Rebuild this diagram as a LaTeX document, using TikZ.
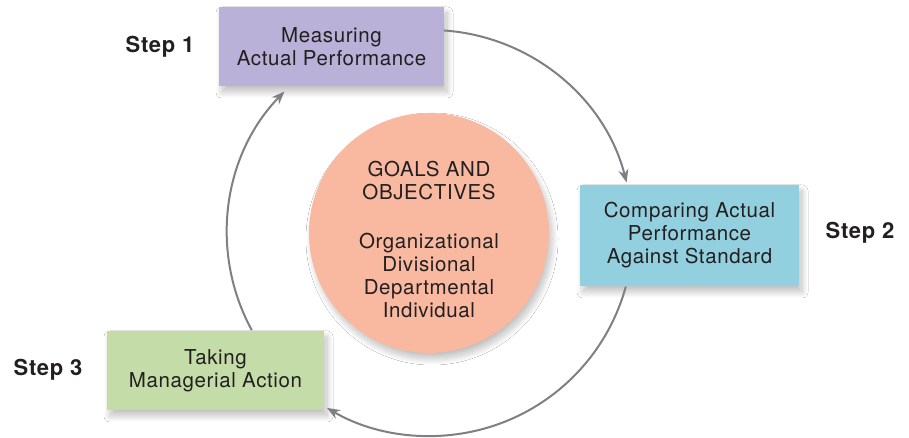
\documentclass[tikz,border=0pt]{standalone}
\usepackage{fontspec}
\setmainfont{TeX Gyre Heros}[LetterSpace=3]
\usetikzlibrary{shadows.blur,arrows.meta}
\definecolor{txt}{HTML}{231F20}
\definecolor{cPurple}{HTML}{B9B1D8}
\definecolor{cBlue}{HTML}{93D0DF}
\definecolor{cGreen}{HTML}{C3DCA8}
\definecolor{cSalmon}{HTML}{F8B9A0}
\definecolor{cArrow}{HTML}{808084}
\tikzset{
  softshadow/.style={blur shadow={shadow xshift=3pt, shadow yshift=-6pt, shadow blur radius=6pt, shadow blur steps=20, shadow opacity=25}},
  stepbox/.style={rectangle, inner sep=0pt, align=center, text=txt,
    font=\fontsize{20.5}{23}\selectfont, softshadow},
  steplabel/.style={text=txt, font=\fontsize{22}{23}\selectfont\bfseries},
  cyclearrow/.style={draw=cArrow, line width=2pt, -{Stealth[length=13pt,width=10pt]}},
}
\begin{document}
\begin{tikzpicture}[x=1pt,y=1pt]
\useasboundingbox (0,0) rectangle (909,438);
\fill[white] (0,0) rectangle (909,438);
\coordinate (C) at (430,205);
\node[circle, fill=cSalmon, minimum size=240pt, inner sep=0pt, softshadow]
  (goal) at (429,205) {};
\node[align=center, text=txt, font=\fontsize{20.5}{23}\selectfont] (goaltext) at (429,198)
  {GOALS AND\\OBJECTIVES\\[26pt]Organizational\\Divisional\\Departmental\\Individual};
\node[stepbox, fill=cPurple, minimum width=225pt, minimum height=79pt] (b1) at (331.5,391.5)
  {Measuring\\Actual Performance};
\node[stepbox, fill=cBlue, minimum width=219pt, minimum height=101pt] (b2) at (689.5,202.5)
  {Comparing Actual\\Performance\\Against Standard};
\node[stepbox, fill=cGreen, minimum width=217pt, minimum height=79pt] (b3) at (215.5,67.5)
  {Taking\\Managerial Action};
\node[steplabel] (s1) at (160,391) {Step 1};
\node[steplabel] (s2) at (860,205) {Step 2};
\node[steplabel] (s3) at (48,68) {Step 3};
\draw[cyclearrow] ([shift={(86:203)}]C) arc[start angle=86, end angle=14.4, radius=203];
\draw[cyclearrow] ([shift={(-15.3:203)}]C) arc[start angle=-15.3, end angle=-120.5, radius=203];
\draw[cyclearrow] ([shift={(208.6:203)}]C) arc[start angle=208.6, end angle=135.8, radius=203];
\end{tikzpicture}
\end{document}
